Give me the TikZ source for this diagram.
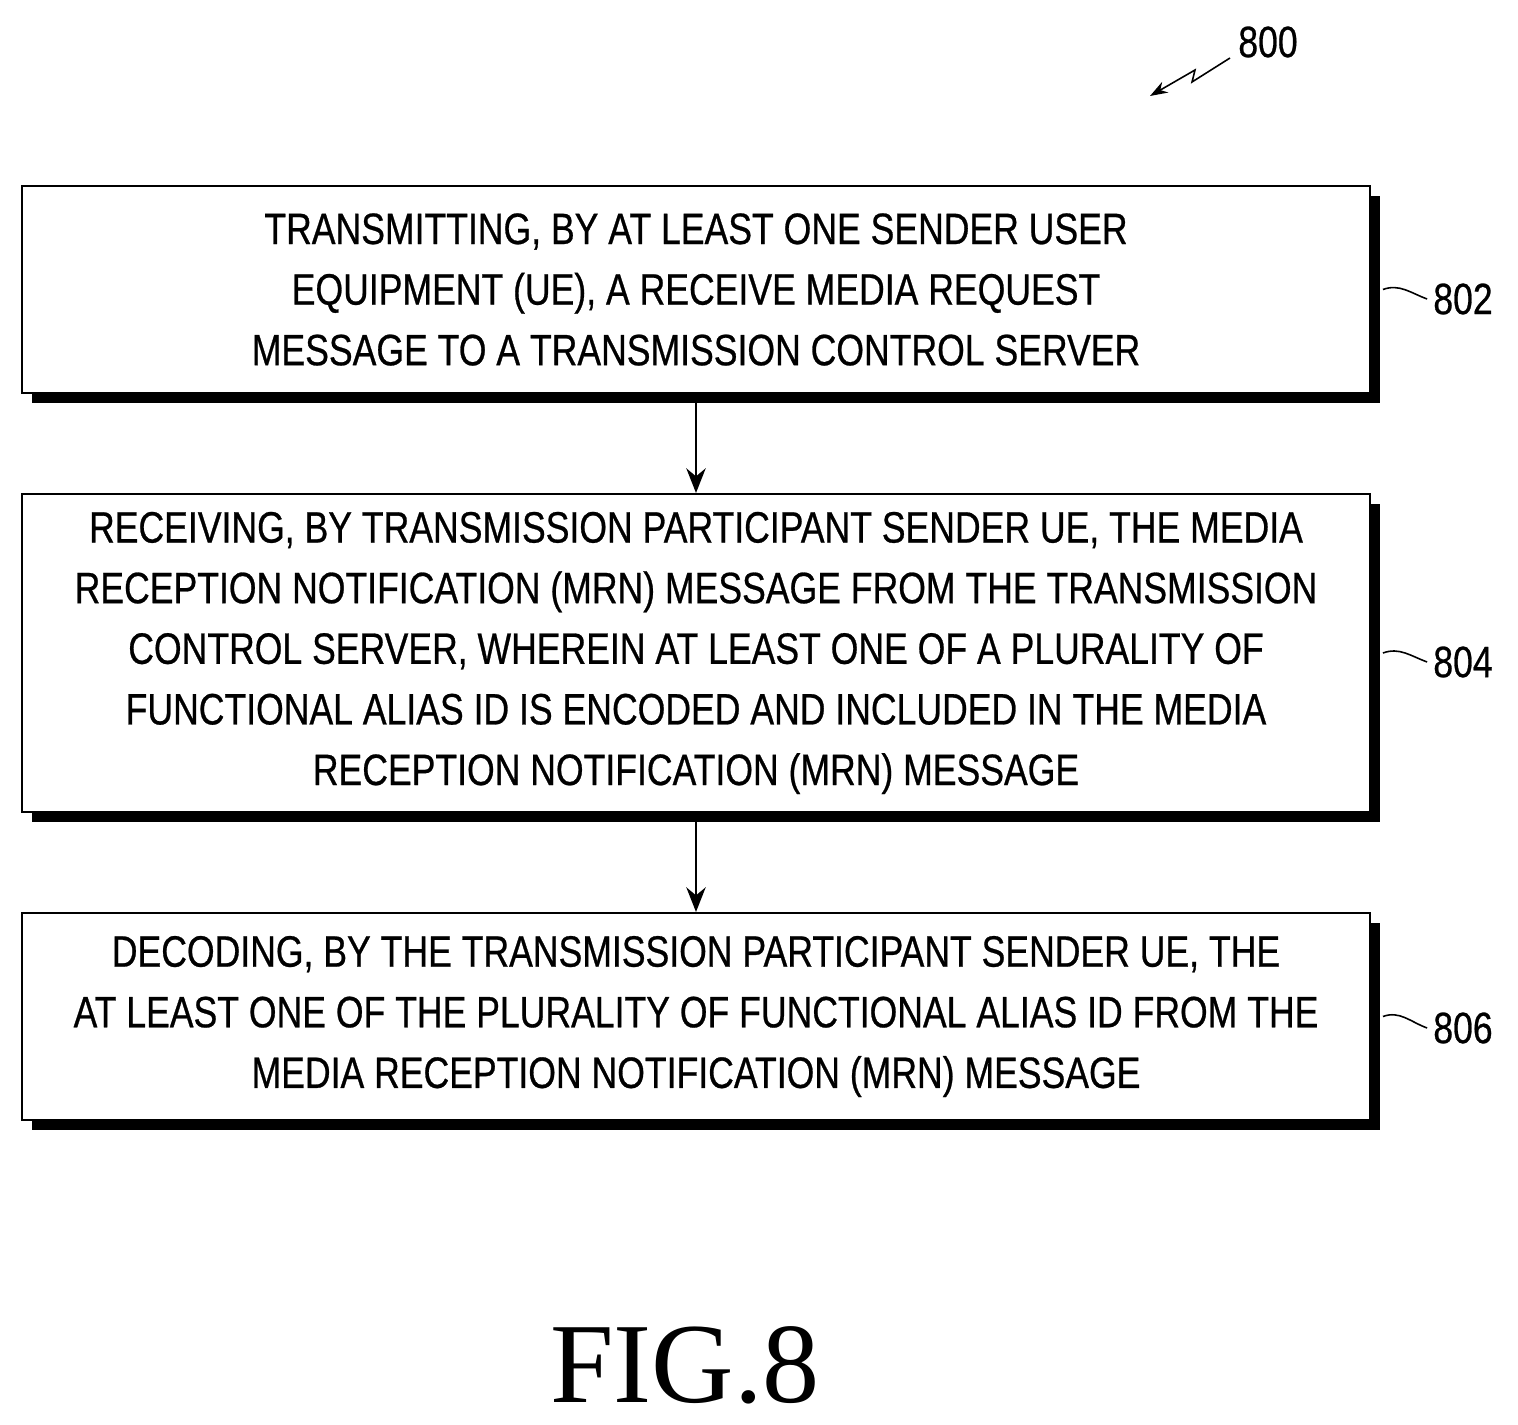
\documentclass[tikz,border=0pt]{standalone}
\usepackage{fontspec}
\setmainfont{Liberation Sans}[FakeStretch=0.81,FakeBold=0.6]
\newfontfamily\figfont{Liberation Serif}
\usetikzlibrary{positioning,arrows.meta}
\begin{document}
\begin{tikzpicture}[x=0.02cm,y=-0.02cm,
  stepbox/.style={draw, line width=1.2pt, fill=white, minimum width=26.96cm, align=center,
    font=\fontsize{25}{34.5}\selectfont, inner sep=0pt},
  leader/.style={line width=0.9pt},
  flow/.style={line width=1.4pt, -{Stealth[length=14pt,width=11pt]}}]
\useasboundingbox (0,0) rectangle (1518,1425);
% shadows
\fill (32,196) rectangle (1380,403);
\fill (32,504) rectangle (1380,822);
\fill (32,923) rectangle (1380,1130);
% steps
\node[stepbox, minimum height=4.14cm] (s802) at (696,289.5) {TRANSMITTING, BY AT LEAST ONE SENDER USER\\EQUIPMENT (UE), A RECEIVE MEDIA REQUEST\\MESSAGE TO A TRANSMISSION CONTROL SERVER};
\node[stepbox, minimum height=6.36cm] (s804) at (696,653) {RECEIVING, BY TRANSMISSION PARTICIPANT SENDER UE, THE MEDIA\\RECEPTION NOTIFICATION (MRN) MESSAGE FROM THE TRANSMISSION\\CONTROL SERVER, WHEREIN AT LEAST ONE OF A PLURALITY OF\\FUNCTIONAL ALIAS ID IS ENCODED AND INCLUDED IN THE MEDIA\\RECEPTION NOTIFICATION (MRN) MESSAGE};
\node[stepbox, minimum height=4.14cm] (s806) at (696,1016.5) {DECODING, BY THE TRANSMISSION PARTICIPANT SENDER UE, THE\\AT LEAST ONE OF THE PLURALITY OF FUNCTIONAL ALIAS ID FROM THE\\MEDIA RECEPTION NOTIFICATION (MRN) MESSAGE};
\draw[flow] (s802) -- (s804);
\draw[flow] (s804) -- (s806);
% reference numerals
\node[font=\fontsize{25}{30}\selectfont] (n802) at (1463,299) {802};
\node[font=\fontsize{25}{30}\selectfont] (n804) at (1463,662) {804};
\node[font=\fontsize{25}{30}\selectfont] (n806) at (1463,1028) {806};
\draw[leader] (s802.east) ++(12,0) to[out=20,in=160] (n802.west);
\draw[leader] (s804.east) ++(12,0) to[out=20,in=160] (n804.west);
\draw[leader] (s806.east) ++(12,0) to[out=20,in=160] (n806.west);
\node[font=\fontsize{25}{30}\selectfont] (n800) at (1268,42) {800};
\coordinate (tip) at (1150,96);
\draw[leader, -{Stealth[length=10pt,width=7pt]}] (1230,58) -- (1192,82) -- (1195,70) -- (tip);
% figure label
\node[font=\figfont\fontsize{65}{70}\selectfont] (fig) at (685,1365) {FIG.8};
\end{tikzpicture}
\end{document}
